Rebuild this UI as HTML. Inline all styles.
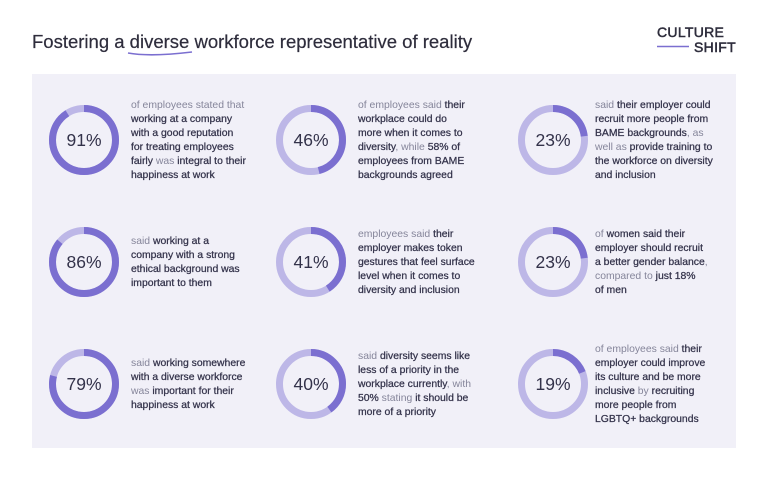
<!DOCTYPE html>
<html><head><meta charset="utf-8"><style>
html,body{margin:0;padding:0;background:#fff;}
svg{display:block;font-family:"Liberation Sans",sans-serif;}
.t{font-size:10.4px;fill:#85859a;}
.b{fill:#33324a;stroke:#33324a;stroke-width:0.25;}
.p{font-size:17.5px;fill:#33324a;text-anchor:middle;}
</style></head><body>
<svg width="768" height="480" viewBox="0 0 768 480">
<rect width="768" height="480" fill="#fff"/>
<text x="32" y="48" font-size="18.5" fill="#2e2d3c" stroke="#2e2d3c" stroke-width="0.2">Fostering a diverse workforce representative of reality</text>
<path d="M128 53 Q150 57 192 52" stroke="#7b6fd0" stroke-width="1.6" fill="none"/>
<text x="657" y="37" font-size="14" fill="#2e2d3c" stroke="#2e2d3c" stroke-width="0.5" letter-spacing="0.3">CULTURE</text>
<text x="736" y="52" font-size="14" fill="#2e2d3c" stroke="#2e2d3c" stroke-width="0.5" text-anchor="end" letter-spacing="0.3">SHIFT</text>
<line x1="657" y1="46.5" x2="689" y2="46.5" stroke="#7b6fd0" stroke-width="1.5"/>
<rect x="32" y="74" width="704" height="374" fill="#f1f0f8"/>
<g fill="none" stroke-width="7">
<g transform="translate(84,140)"><circle r="31.5" stroke="#bdb7e7"/><circle r="31.5" stroke="#7b6fd0" stroke-dasharray="180.1 300" transform="rotate(-90)"/></g>
<g transform="translate(311,140)"><circle r="31.5" stroke="#bdb7e7"/><circle r="31.5" stroke="#7b6fd0" stroke-dasharray="91.0 300" transform="rotate(-90)"/></g>
<g transform="translate(553,140)"><circle r="31.5" stroke="#bdb7e7"/><circle r="31.5" stroke="#7b6fd0" stroke-dasharray="45.5 300" transform="rotate(-90)"/></g>
<g transform="translate(84,262)"><circle r="31.5" stroke="#bdb7e7"/><circle r="31.5" stroke="#7b6fd0" stroke-dasharray="170.2 300" transform="rotate(-90)"/></g>
<g transform="translate(311,262)"><circle r="31.5" stroke="#bdb7e7"/><circle r="31.5" stroke="#7b6fd0" stroke-dasharray="81.1 300" transform="rotate(-90)"/></g>
<g transform="translate(553,262)"><circle r="31.5" stroke="#bdb7e7"/><circle r="31.5" stroke="#7b6fd0" stroke-dasharray="45.5 300" transform="rotate(-90)"/></g>
<g transform="translate(84,384)"><circle r="31.5" stroke="#bdb7e7"/><circle r="31.5" stroke="#7b6fd0" stroke-dasharray="156.4 300" transform="rotate(-90)"/></g>
<g transform="translate(311,384)"><circle r="31.5" stroke="#bdb7e7"/><circle r="31.5" stroke="#7b6fd0" stroke-dasharray="79.2 300" transform="rotate(-90)"/></g>
<g transform="translate(553,384)"><circle r="31.5" stroke="#bdb7e7"/><circle r="31.5" stroke="#7b6fd0" stroke-dasharray="37.6 300" transform="rotate(-90)"/></g>
</g>
<text class="p" x="84" y="146">91%</text>
<text class="p" x="311" y="146">46%</text>
<text class="p" x="553" y="146">23%</text>
<text class="p" x="84" y="268">86%</text>
<text class="p" x="311" y="268">41%</text>
<text class="p" x="553" y="268">23%</text>
<text class="p" x="84" y="390">79%</text>
<text class="p" x="311" y="390">40%</text>
<text class="p" x="553" y="390">19%</text>

<text class="t" x="131" y="108">of employees stated that</text>
<text class="t b" x="131" y="122">working at a company</text>
<text class="t b" x="131" y="136">with a good reputation</text>
<text class="t b" x="131" y="150">for treating employees</text>
<text class="t" x="131" y="164"><tspan class="b">fairly</tspan> was <tspan class="b">integral to their</tspan></text>
<text class="t b" x="131" y="178">happiness at work</text>

<text class="t" x="358" y="108">of employees said <tspan class="b">their</tspan></text>
<text class="t b" x="358" y="122">workplace could do</text>
<text class="t b" x="358" y="136">more when it comes to</text>
<text class="t" x="358" y="150"><tspan class="b">diversity</tspan>, while <tspan class="b">58% of</tspan></text>
<text class="t b" x="358" y="164">employees from BAME</text>
<text class="t b" x="358" y="178">backgrounds agreed</text>

<text class="t" x="595" y="108">said <tspan class="b">their employer could</tspan></text>
<text class="t b" x="595" y="122">recruit more people from</text>
<text class="t" x="595" y="136"><tspan class="b">BAME backgrounds</tspan>, as</text>
<text class="t" x="595" y="150">well as <tspan class="b">provide training to</tspan></text>
<text class="t b" x="595" y="164">the workforce on diversity</text>
<text class="t b" x="595" y="178">and inclusion</text>

<text class="t" x="131" y="244">said <tspan class="b">working at a</tspan></text>
<text class="t b" x="131" y="258">company with a strong</text>
<text class="t b" x="131" y="272">ethical background was</text>
<text class="t b" x="131" y="286">important to them</text>

<text class="t" x="358" y="237">employees said <tspan class="b">their</tspan></text>
<text class="t b" x="358" y="251">employer makes token</text>
<text class="t b" x="358" y="265">gestures that feel surface</text>
<text class="t b" x="358" y="279">level when it comes to</text>
<text class="t b" x="358" y="293">diversity and inclusion</text>

<text class="t" x="595" y="237">of <tspan class="b">women said their</tspan></text>
<text class="t b" x="595" y="251">employer should recruit</text>
<text class="t" x="595" y="265"><tspan class="b">a better gender balance</tspan>,</text>
<text class="t" x="595" y="279">compared to <tspan class="b">just 18%</tspan></text>
<text class="t b" x="595" y="293">of men</text>

<text class="t" x="131" y="366">said <tspan class="b">working somewhere</tspan></text>
<text class="t b" x="131" y="380">with a diverse workforce</text>
<text class="t" x="131" y="394">was <tspan class="b">important for their</tspan></text>
<text class="t b" x="131" y="408">happiness at work</text>

<text class="t" x="358" y="359">said <tspan class="b">diversity seems like</tspan></text>
<text class="t b" x="358" y="373">less of a priority in the</text>
<text class="t" x="358" y="387"><tspan class="b">workplace currently</tspan>, with</text>
<text class="t" x="358" y="401"><tspan class="b">50%</tspan> stating <tspan class="b">it should be</tspan></text>
<text class="t b" x="358" y="415">more of a priority</text>

<text class="t" x="595" y="352">of employees said <tspan class="b">their</tspan></text>
<text class="t b" x="595" y="366">employer could improve</text>
<text class="t b" x="595" y="380">its culture and be more</text>
<text class="t" x="595" y="394"><tspan class="b">inclusive</tspan> by <tspan class="b">recruiting</tspan></text>
<text class="t b" x="595" y="408">more people from</text>
<text class="t b" x="595" y="422">LGBTQ+  backgrounds</text>
</svg>
</body></html>
